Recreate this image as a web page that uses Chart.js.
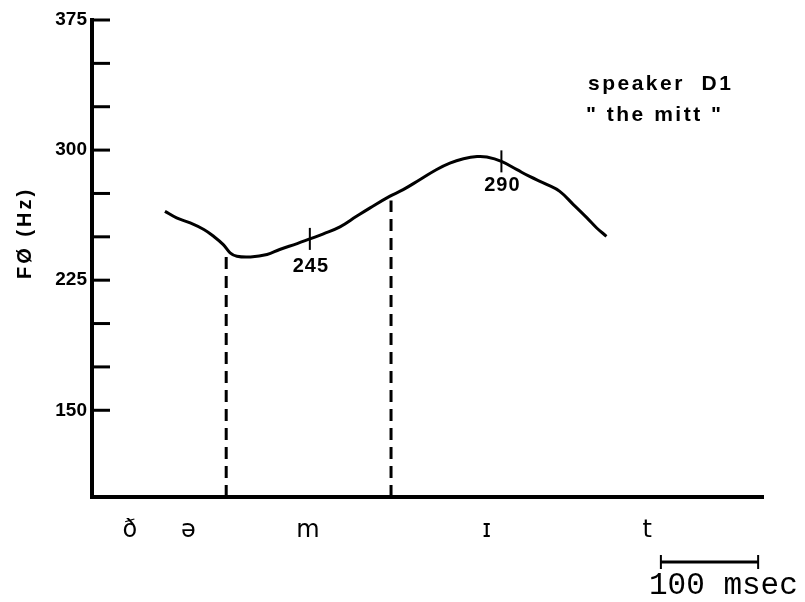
<!DOCTYPE html>
<html>
<head>
<meta charset="utf-8">
<script src="https://cdn.jsdelivr.net/npm/chart.js@4"></script>
<style>
  body { margin: 0; background: #fff; }
</style>
</head>
<body>
<canvas id="chart" width="805" height="602"></canvas>
<script>
// F0 contour, time in msec from the start of the plot, F0 in Hz
const timeMs = [75, 87, 101, 115, 125, 135, 142, 149, 163, 180, 193, 211, 224, 238, 255, 272, 286, 306, 320, 337, 354, 368, 382, 396, 406, 421, 437, 450, 468, 481, 495, 509, 519, 529]
const f0Hz = [264.7, 260.9, 258, 254.2, 250.3, 245.5, 240.8, 238.8, 238.4, 239.8, 242.7, 246.1, 248.8, 251.7, 255.7, 261.8, 266.7, 273.3, 277.2, 282.9, 288.7, 292.5, 295, 296.3, 296, 293.5, 288.7, 284.8, 280.1, 276.2, 268.6, 260.9, 255.1, 250.3]

// segment boundaries (dashed lines)
const boundaryMs = [138, 307.5]
const boundaryTopHz = [240.5, 271]

// marked measurement points on the contour
const markMs = [224, 421]
const markHz = [248.8, 293.5]
const markLabels = ['245', '290']

// phoneme labels along the time axis
const phonemes = ['ð', 'ə', 'm', 'ɪ', 't']
const phonemeMs = [39, 99, 222, 406, 571]

// y axis ticks
const yTicks = [150, 175, 200, 225, 250, 275, 300, 325, 350, 375]
const yLabels = [150, 225, 300, 375]

const boundarySets = boundaryMs.map((t, i) => ({
  data: [{ x: t, y: 100 }, { x: t, y: boundaryTopHz[i] }],
  borderColor: '#000',
  borderWidth: 3,
  borderDash: [12, 7],
  pointRadius: 0,
}))

const decor = {
  id: 'decor',
  afterDraw(chart) {
    const { ctx, scales: { x, y } } = chart
    ctx.save()
    ctx.strokeStyle = '#000'
    ctx.fillStyle = '#000'

    // tick marks pointing into the plot
    ctx.lineWidth = 3
    yTicks.forEach(v => {
      const py = y.getPixelForValue(v)
      ctx.beginPath()
      ctx.moveTo(x.left, py)
      ctx.lineTo(x.left + 18, py)
      ctx.stroke()
    })

    // values at the marked points
    ctx.font = 'bold 20px "Liberation Sans"'
    ctx.letterSpacing = '1px'
    ctx.textAlign = 'center'
    ctx.textBaseline = 'middle'
    markMs.forEach((t, i) => {
      ctx.fillText(markLabels[i], x.getPixelForValue(t) + 1, y.getPixelForValue(markHz[i]) + (i === 0 ? 28 : 24))
    })

    // y axis title
    ctx.save()
    ctx.translate(25, 233)
    ctx.rotate(-Math.PI / 2)
    ctx.font = 'bold 20px "Liberation Sans"'
    ctx.letterSpacing = '3px'
    ctx.fillText('FØ (Hz)', 0, 0)
    ctx.restore()

    // speaker note
    ctx.textAlign = 'left'
    ctx.font = 'bold 21px "Liberation Sans"'
    ctx.letterSpacing = '2.5px'
    ctx.fillText('speaker  D1', 588, 84)
    ctx.fillText('" the mitt "', 586, 115)

    // 100 msec scale bar
    const x1 = x.getPixelForValue(585)
    const x2 = x.getPixelForValue(685)
    ctx.lineWidth = 3
    ctx.beginPath()
    ctx.moveTo(x1, 562)
    ctx.lineTo(x2, 562)
    ctx.stroke()
    ctx.lineWidth = 2
    ctx.beginPath()
    ctx.moveTo(x1, 555); ctx.lineTo(x1, 569)
    ctx.moveTo(x2, 555); ctx.lineTo(x2, 569)
    ctx.stroke()
    ctx.letterSpacing = '0px'
    ctx.font = '31px "Liberation Mono"'
    ctx.fillText('100 msec', 649, 586)

    ctx.restore()
  }
}

const ctx = document.getElementById('chart').getContext('2d')
const chart = new Chart(ctx, {
  type: 'line',
  data: {
    datasets: [{
      data: timeMs.map((t, i) => ({ x: t, y: f0Hz[i] })),
      borderColor: '#000',
      borderWidth: 3,
      tension: 0.4,
      pointRadius: 0,
    }, {
      data: markMs.map((t, i) => ({ x: t, y: markHz[i] })),
      showLine: false,
      pointStyle: 'line',
      rotation: 90,
      pointRadius: 11,
      borderColor: '#000',
      borderWidth: 2,
    }, ...boundarySets],
  },
  options: {
    responsive: false,
    animation: false,
    devicePixelRatio: 1,
    layout: { padding: { left: 0, top: 20, right: 42, bottom: 0 } },
    plugins: {
      legend: { display: false },
      tooltip: { enabled: false },
    },
    scales: {
      x: {
        type: 'linear',
        min: 0,
        max: 690,
        afterFit: s => { s.height = 105 },
        afterBuildTicks: s => { s.ticks = phonemeMs.map(v => ({ value: v })) },
        grid: { display: false, drawTicks: false },
        border: { display: true, color: '#000', width: 4 },
        ticks: {
          autoSkip: false,
          maxRotation: 0,
          padding: 19,
          color: '#000',
          font: { family: '"DejaVu Sans"', size: 24 },
          callback: (v, i) => phonemes[i],
        },
      },
      y: {
        min: 100,
        max: 375,
        afterFit: s => { s.width = 92 },
        afterBuildTicks: s => { s.ticks = yTicks.map(v => ({ value: v })) },
        grid: { display: false, drawTicks: false },
        border: { display: true, color: '#000', width: 4 },
        ticks: {
          autoSkip: false,
          padding: 5,
          color: '#000',
          font: { family: '"Liberation Sans"', size: 19, weight: 'bold' },
          callback: v => yLabels.includes(v) ? String(v) : '',
        },
      },
    },
  },
  plugins: [decor],
})
</script>
</body>
</html>
